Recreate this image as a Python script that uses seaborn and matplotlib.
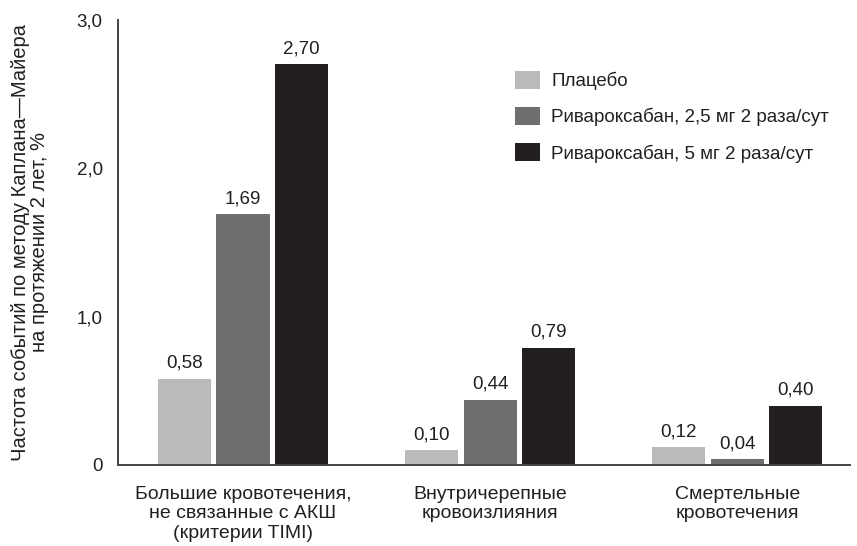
import matplotlib
matplotlib.use("Agg")
import matplotlib.pyplot as plt
import seaborn as sns
import pandas as pd
from matplotlib.ticker import FixedLocator

categories = [
    "Большие кровотечения,\nне связанные с АКШ\n(критерии TIMI)",
    "Внутричерепные\nкровоизлияния",
    "Смертельные\nкровотечения",
]
series_names = [
    "Плацебо",
    "Ривароксабан, 2,5 мг 2 раза/сут",
    "Ривароксабан, 5 мг 2 раза/сут",
]
placebo = [0.58, 0.10, 0.12]
riva_2_5 = [1.69, 0.44, 0.04]
riva_5 = [2.70, 0.79, 0.40]
y_ticks = [0, 1.0, 2.0, 3.0]
y_tick_labels = ["0", "1,0", "2,0", "3,0"]
y_label = "Частота событий по методу Каплана—Майера\nна протяжении 2 лет, %"

colors = ["#b9babc", "#6e6f71", "#231f20"]
ink = "#231f20"

rows = []
for name, vals in zip(series_names, [placebo, riva_2_5, riva_5]):
    for cat, v in zip(categories, vals):
        rows.append({"cat": cat, "group": name, "value": v})
df = pd.DataFrame(rows)

sns.set_theme(style="white")
plt.rcParams["font.family"] = ["Liberation Sans", "DejaVu Sans"]

fig = plt.figure(figsize=(8.57, 5.46), dpi=100)
ax = fig.add_axes([0.1377, 0.1484, 0.992 - 0.1377, 0.9634 - 0.1484])

sns.barplot(data=df, x="cat", y="value", hue="group", order=categories,
            hue_order=series_names, palette=colors, width=0.71, gap=0.09,
            saturation=1, ax=ax, legend=True, edgecolor="none")

for cont in ax.containers:
    vals = [b.get_height() for b in cont]
    ax.bar_label(cont, labels=[f"{v:.2f}".replace(".", ",") for v in vals],
                 padding=5, fontsize=13.5, color=ink)

ax.set_xlim(-0.506, 2.457)
ax.set_ylim(0, 3.0)
ax.set_yticks(y_ticks)
ax.set_yticklabels(y_tick_labels)
ax.set_xticks(range(len(categories)))
ax.set_xticklabels(categories, fontsize=14, color=ink, linespacing=1.2)
ax.xaxis.set_minor_locator(FixedLocator([0.5, 1.5]))
ax.tick_params(axis="x", which="major", length=0, pad=15)
ax.tick_params(axis="x", which="minor", length=5, width=1.2, color="#444444", direction="out")
ax.tick_params(axis="y", length=6, width=1.2, color="#444444", direction="out",
               labelsize=13.5, labelcolor=ink, pad=5)
ax.set_xlabel("")
ax.set_ylabel(y_label, fontsize=14.5, color=ink, labelpad=20, linespacing=1.0)

for side in ["top", "right"]:
    ax.spines[side].set_visible(False)
for side in ["left", "bottom"]:
    ax.spines[side].set_color("#444444")
    ax.spines[side].set_linewidth(1.4)

leg = ax.legend(loc="upper left", bbox_to_anchor=(0.542, 0.885), frameon=False,
                fontsize=13.5, handlelength=1.33, handleheight=1.07, handletextpad=0.6,
                labelspacing=0.9, borderaxespad=0, borderpad=0)
for t in leg.get_texts():
    t.set_color(ink)

fig.savefig("out.png", dpi=100, facecolor="white")
